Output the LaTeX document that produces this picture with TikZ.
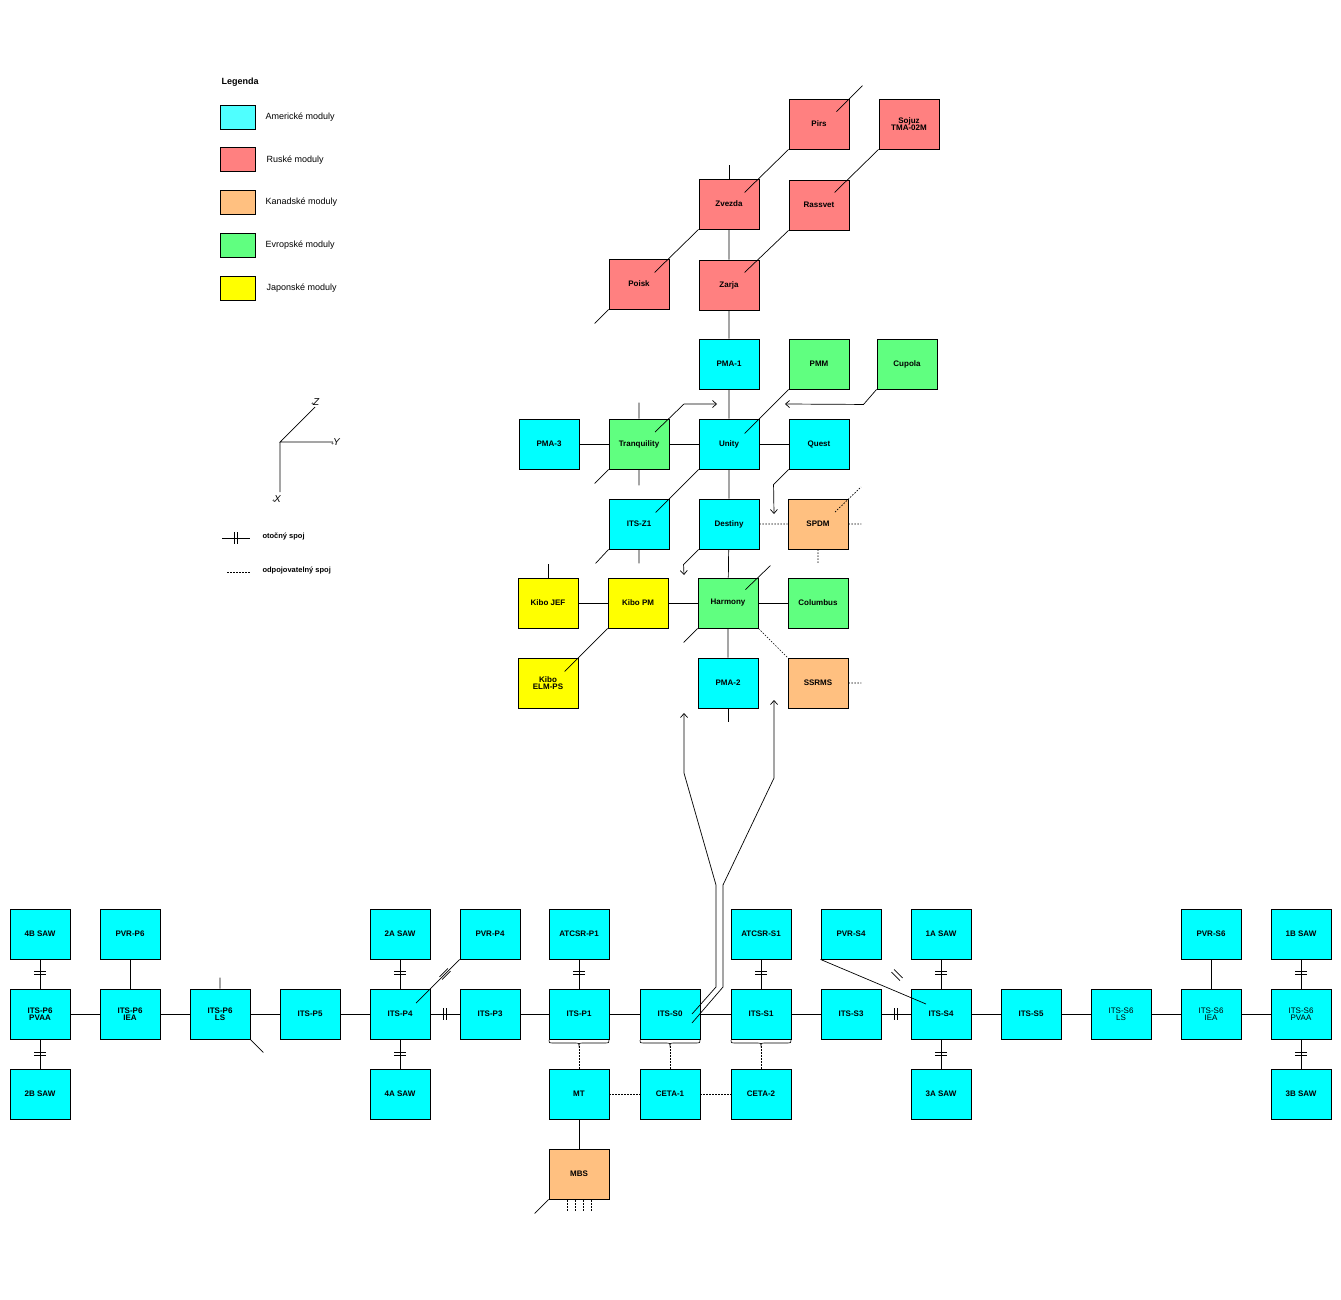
\documentclass[tikz,border=0pt]{standalone}
\usepackage{fontspec}
\setmainfont{Liberation Sans}
\usetikzlibrary{arrows.meta}
\definecolor{am}{HTML}{00FFFF}
\definecolor{amL}{HTML}{4FFFFF}
\definecolor{ru}{HTML}{FF8080}
\definecolor{ca}{HTML}{FFC080}
\definecolor{eu}{HTML}{60FF80}
\definecolor{jp}{HTML}{FFFF00}
\tikzset{
  box/.style={draw,line width=0.9pt,minimum width=60,minimum height=50,inner sep=0,align=center,
    font=\fontsize{8}{8.5}\selectfont\bfseries},
  lbox/.style={box,font=\fontsize{8}{8.5}\selectfont},
  ln/.style={line width=0.7pt},
  dot/.style={line width=0.7pt,dash pattern=on 1.5pt off 1.5pt},
  arr/.style={line width=0.7pt,-{Straight Barb[length=4pt,width=7pt]}},
  swv/.pic={\draw[line width=0.7pt] (-1.8,-6)--(-1.8,6) (1.8,-6)--(1.8,6);},
  sw/.style={draw,line width=0.9pt,minimum width=35,minimum height=24,inner sep=0},
  lt/.style={anchor=west,font=\fontsize{9}{10}\selectfont},
}
\newcommand{\B}[6][box]{\node[#1,fill=#5] (#2) at (#3,#4) {#6};}
\begin{document}
\begin{tikzpicture}[x=1pt,y=-1pt]
\useasboundingbox (0,0) rectangle (1341,1300);
% legend
\node[anchor=west,font=\fontsize{9}{10}\selectfont\bfseries] (leg) at (218,82) {Legenda};
\node[sw,fill=amL] (s1) at (237.5,117) {}; \node[lt] (t1) at (262,117) {Americké moduly};
\node[sw,fill=ru] (s2) at (237.5,159) {}; \node[lt] (t2) at (263,160) {Ruské moduly};
\node[sw,fill=ca] (s3) at (237.5,202) {}; \node[lt] (t3) at (262,202) {Kanadské moduly};
\node[sw,fill=eu] (s4) at (237.5,245) {}; \node[lt] (t4) at (262,245) {Evropské moduly};
\node[sw,fill=jp] (s5) at (237.5,288) {}; \node[lt] (t5) at (263,288) {Japonské moduly};
% axes
\coordinate (o) at (280,442);
\coordinate (zz) at (315,407); \coordinate (yy) at (333,442); \coordinate (xx) at (280,492);
\draw[ln] (zz)--(o)--(yy) (o)--(xx);
\node[font=\fontsize{9}{10}\selectfont\itshape,anchor=west,inner sep=0] (lz) at (311,402) {\tiny+\normalsize\kern-1pt Z};
\node[font=\fontsize{9}{10}\selectfont\itshape,anchor=west,inner sep=0] (ly) at (331,442) {\tiny+\normalsize\kern-1pt Y};
\node[font=\fontsize{9}{10}\selectfont\itshape,anchor=west,inner sep=0] (lx) at (272,499) {\tiny+\normalsize\kern-1pt X};
% legend joints
\coordinate (j1) at (222,538); \coordinate (j2) at (250,538);
\draw[ln] (j1)--(j2); \pic at (236,538) {swv};
\node[anchor=west,font=\fontsize{7.5}{8}\selectfont\bfseries] (o1) at (259,536) {otočný spoj};
\coordinate (j3) at (227,572); \coordinate (j4) at (250,572);
\draw[dot] (j3)--(j4);
\node[anchor=west,font=\fontsize{7.5}{8}\selectfont\bfseries] (o2) at (259,571) {odpojovatelný spoj};
% ---- top modules
\B{pirs}{819}{124}{ru}{Pirs}
\B{sojuz}{909}{124}{ru}{Sojuz\\[-2pt]TMA-02M}
\B{zvezda}{729}{204}{ru}{Zvezda}
\B{rassvet}{819}{205}{ru}{Rassvet}
\B{poisk}{639}{284}{ru}{Poisk}
\B{zarja}{729}{285}{ru}{Zarja}
\B{pma1}{729}{364}{am}{PMA-1}
\B{pmm}{819}{364}{eu}{PMM}
\B{cupola}{907}{364}{eu}{Cupola}
\B{pma3}{549}{444}{am}{PMA-3}
\B{tranq}{639}{444}{eu}{Tranquility}
\B{unity}{729}{444}{am}{Unity}
\B{quest}{819}{444}{am}{Quest}
\B{z1}{639}{524}{am}{ITS-Z1}
\B{destiny}{729}{524}{am}{Destiny}
\B{spdm}{818}{524}{ca}{SPDM}
\B{jef}{548}{603}{jp}{Kibo JEF}
\B{kpm}{638}{603}{jp}{Kibo PM}
\B{harmony}{728}{603}{eu}{Harmony}
\B{columbus}{818}{603}{eu}{Columbus}
\B{elm}{548}{683}{jp}{Kibo\\[-2pt]ELM-PS}
\B{pma2}{728}{683}{am}{PMA-2}
\B{ssrms}{818}{683}{ca}{SSRMS}
% top connectors
\draw[ln] (zvezda.north)--++(0,-14);
\draw[ln] (zvezda)--(zarja) (zarja)--(pma1) (pma1)--(unity) (unity)--(destiny) (destiny)--(harmony) (harmony)--(pma2);
\draw[ln] (pma2.south)--++(0,14);
\draw[ln] (pma3)--(tranq) (tranq)--(unity) (unity)--(quest);
\draw[ln] (jef)--(kpm) (kpm)--(harmony) (harmony)--(columbus);
\draw[ln] (pirs.south west)--++(-44,43) (pirs.north east)++(-13,13)--++(26,-26);
\draw[ln] (sojuz.south west)--++(-44,43);
\draw[ln] (rassvet.south west)--++(-44,42);
\draw[ln] (zvezda.south west)--++(-44,43);
\draw[ln] (poisk.south west)--++(-14,14);
\draw[ln] (pmm.south west)--++(-44,44);
\draw[arr] (cupola.south west)--++(-13,15)--(785,404);
\draw[arr] (655,432)--(684,404)--(717,404);
\draw[ln] (tranq.north)--++(0,-16) (tranq.south)--++(0,16) (tranq.south west)--++(-14,14);
\draw[arr] (quest.south west)--++(-15,15)--(774,514);
\draw[ln] (unity.south west)--++(-43,43);
\draw[ln] (z1.south west)--++(-13,14) (z1.south)--++(0,14);
\draw[dot] (destiny)--(spdm) (spdm.east)--++(13,0) (spdm.south)--++(0,14) (835,512)--(861,487);
\draw[arr] (destiny.south west)--++(-15,15)--(684,575);
\draw[ln] (harmony.north east)++(-13,12)--++(25,-24);
\draw[ln] (jef.north)--++(0,-14);
\draw[ln] (kpm.south west)--++(-43,43);
\draw[ln] (harmony.south west)--++(-14,14);
\draw[dot] (harmony.south east)--(ssrms.north west) (ssrms.east)--++(13,0);
% ---- truss
\foreach \n/\x/\t in {b4/40/4B SAW,pvrp6/130/PVR-P6,a2/400/2A SAW,pvrp4/490/PVR-P4,atp1/579/ATCSR-P1,ats1/761/ATCSR-S1,pvrs4/851/PVR-S4,a1/941/1A SAW,pvrs6/1211/PVR-S6,b1/1301/1B SAW}
  {\node[box,fill=am] (\n) at (\x,934) {\t};}
\foreach \n/\x/\t in {p6pvaa/40/ITS-P6\\[-2pt]PVAA,p6iea/130/ITS-P6\\[-2pt]IEA,p6ls/220/ITS-P6\\[-2pt]LS,p5/310/ITS-P5,p4/400/ITS-P4,p3/490/ITS-P3,p1/579/ITS-P1,s0/670/ITS-S0,s1/761/ITS-S1,s3/851/ITS-S3,s4/941/ITS-S4,s5/1031/ITS-S5}
  {\node[box,fill=am] (\n) at (\x,1014) {\t};}
\foreach \n/\x/\t in {s6ls/1121/ITS-S6\\[-2pt]LS,s6iea/1211/ITS-S6\\[-2pt]IEA,s6pvaa/1301/ITS-S6\\[-2pt]PVAA}
  {\node[lbox,fill=am] (\n) at (\x,1014) {\t};}
\foreach \n/\x/\t in {b2/40/2B SAW,a4/400/4A SAW,mt/579/MT,ceta1/670/CETA-1,ceta2/761/CETA-2,a3/941/3A SAW,b3/1301/3B SAW}
  {\node[box,fill=am] (\n) at (\x,1094) {\t};}
\node[box,fill=ca] (mbs) at (579,1174) {MBS};
\draw[ln] (p6pvaa)--(p6iea) (p6iea)--(p6ls) (p6ls)--(p5) (p5)--(p4) (p4)--(p3) (p3)--(p1) (p1)--(s0) (s0)--(s1) (s1)--(s3) (s3)--(s4) (s4)--(s5) (s5)--(s6ls) (s6ls)--(s6iea) (s6iea)--(s6pvaa);
\pic at (445,1014) {swv}; \pic at (896,1014) {swv};
\draw[ln] (b4)--(p6pvaa) (p6pvaa)--(b2) (pvrp6)--(p6iea) (a2)--(p4) (p4)--(a4) (atp1)--(p1) (ats1)--(s1) (a1)--(s4) (s4)--(a3) (pvrs6)--(s6iea) (b1)--(s6pvaa) (s6pvaa)--(b3) (mt)--(mbs);
\foreach \x/\y in {40/973,40/1054,400/973,400/1054,579/973,761/973,941/973,941/1054,1301/973,1301/1054}
  {\pic[rotate=90] at (\x,\y) {swv};}
\draw[ln] (pvrp4.south west)--(416,1003); \pic[rotate=-45] at (445,974) {swv};
\draw[ln] (pvrs4.south west)--(926,1004); \pic[rotate=45] at (897,975) {swv};
\draw[ln] (p6ls.north)--++(0,-11) (p6ls.south east)--++(13,13);
% braces
\foreach \x in {579,670,761}{
  \draw[line width=0.6pt] (\x-30,1040) .. controls (\x-30,1043) .. (\x-27,1043) -- (\x-3,1043) .. controls (\x,1043) .. (\x,1046) .. controls (\x,1043) .. (\x+3,1043) -- (\x+27,1043) .. controls (\x+30,1043) .. (\x+30,1040);
}
\draw[dot] (579,1046)--(mt.north) (670,1046)--(ceta1.north) (761,1046)--(ceta2.north);
\draw[dot] (mt)--(ceta1) (ceta1)--(ceta2);
\draw[ln] (mbs.south west)--++(-14,14);
\foreach \x in {567,575,583,591}{\draw[dot] (\x,1200)--(\x,1211);}
% long transfer lines
\draw[arr] (692,1014)--(716,987)--(716,885)--(684,773)--(684,713);
\draw[arr] (692,1023)--(723,987)--(723,885)--(774,778)--(774,700);
\end{tikzpicture}
\end{document}
